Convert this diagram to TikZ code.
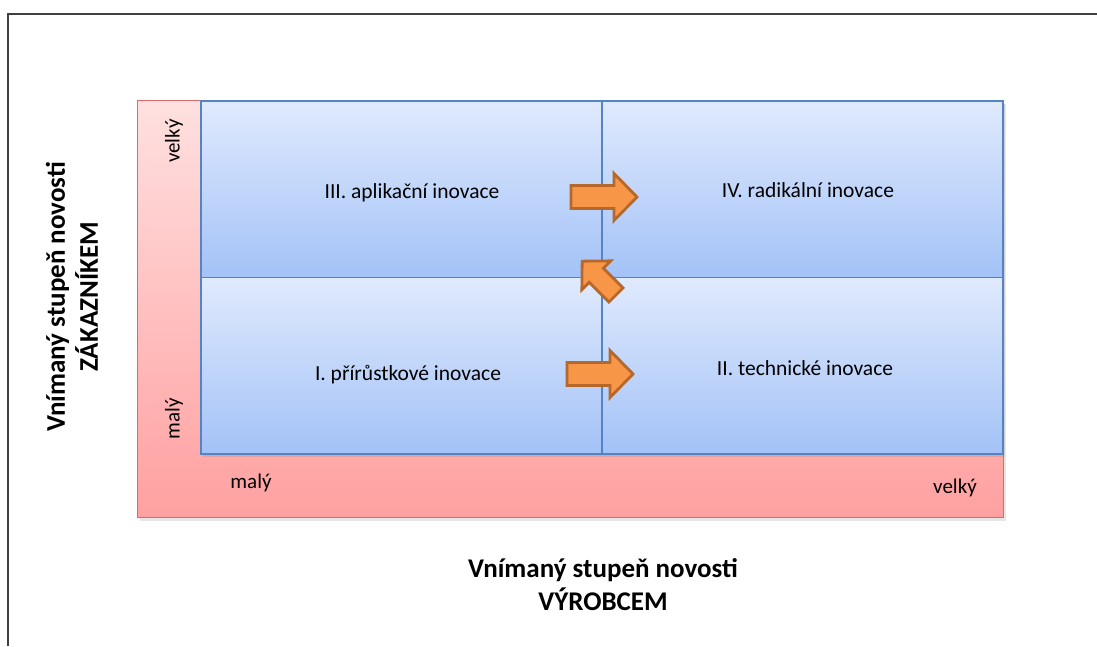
\documentclass[tikz,border=0pt]{standalone}
\usepackage{fontspec}
\setmainfont{Carlito}
\usetikzlibrary{shadows}
\definecolor{quadtop}{RGB}{224,234,253}
\definecolor{quadbot}{RGB}{163,194,247}
\definecolor{quadline}{RGB}{84,132,196}
\definecolor{axistop}{RGB}{255,224,224}
\definecolor{axisbot}{RGB}{255,160,160}
\definecolor{axisline}{RGB}{212,108,108}
\definecolor{arrfill}{RGB}{247,150,70}
\definecolor{arrline}{RGB}{182,104,42}
\tikzset{
  frame/.style={line width=1.6pt, black!75},
  axisbox/.style={draw=axisline, line width=1.3pt, top color=axistop, bottom color=axisbot,
    minimum width=866pt, minimum height=417pt, anchor=north west, inner sep=0pt,
    drop shadow={opacity=0.2, shadow xshift=2pt, shadow yshift=-3pt}},
  quad/.style={draw=quadline, line width=1.5pt, top color=quadtop, bottom color=quadbot,
    minimum width=401pt, minimum height=176.5pt, anchor=north west, inner sep=0pt,
    drop shadow={opacity=0.2, shadow xshift=2pt, shadow yshift=-3pt}},
  quadtext/.style={anchor=base, inner sep=0pt, font=\fontsize{21.5}{24}\selectfont},
  scaletext/.style={inner sep=0pt, font=\fontsize{21}{24}\selectfont},
  titletext/.style={inner sep=0pt, align=center, font=\fontsize{27}{33}\selectfont\bfseries},
  arrowbox/.style={draw=arrline, fill=arrfill, line width=2.8pt, line join=miter},
  pics/blockarrow/.style={code={
    \draw[arrowbox] (0,-11.5) -- (#1-23,-11.5) -- (#1-23,-23.5) -- (#1,0)
      -- (#1-23,23.5) -- (#1-23,11.5) -- (0,11.5) -- cycle;
  }}
}
\begin{document}
\begin{tikzpicture}[x=1pt, y=1pt]
  \useasboundingbox (0,0) rectangle (1097,-646);
  \draw[frame] (8,-646) |- (1097,-14);

  % scale background
  \node[axisbox] (axis) at (137,-100) {};

  % quadrants
  \foreach \name/\x/\y in {%
    q3/200/100, q4/601/100,
    q1/200/276.5, q2/601/276.5
  }{
    \node[quad] (\name) at (\x,-\y) {};
  }

  \node[quadtext] (t3) at (412,-198) {III. aplikační inovace};
  \node[quadtext] (t4) at (808,-197) {IV. radikální inovace};
  \node[quadtext] (t1) at (408,-380) {I. přírůstkové inovace};
  \node[quadtext] (t2) at (805,-375) {II. technické inovace};

  % arrows
  \pic (arrtop) at (571,-197) {blockarrow=66};
  \pic (arrbot) at (567,-374) {blockarrow=66};
  \pic[rotate=135, scale=0.87] (arrdiag) at (616,-295) {blockarrow=55};

  % scale labels
  \node[scaletext, rotate=90] (yhigh) at (174,-141) {velký};
  \node[scaletext, rotate=90] (ylow) at (174,-419) {malý};
  \node[scaletext] (xlow) at (251,-483) {malý};
  \node[scaletext] (xhigh) at (955,-488) {velký};

  % axis titles
  \node[titletext, rotate=90] (ytitle) at (72,-297) {Vnímaný stupeň novosti\\ZÁKAZNÍKEM};
  \node[titletext] (xtitle) at (603,-585) {Vnímaný stupeň novosti\\VÝROBCEM};
\end{tikzpicture}
\end{document}
